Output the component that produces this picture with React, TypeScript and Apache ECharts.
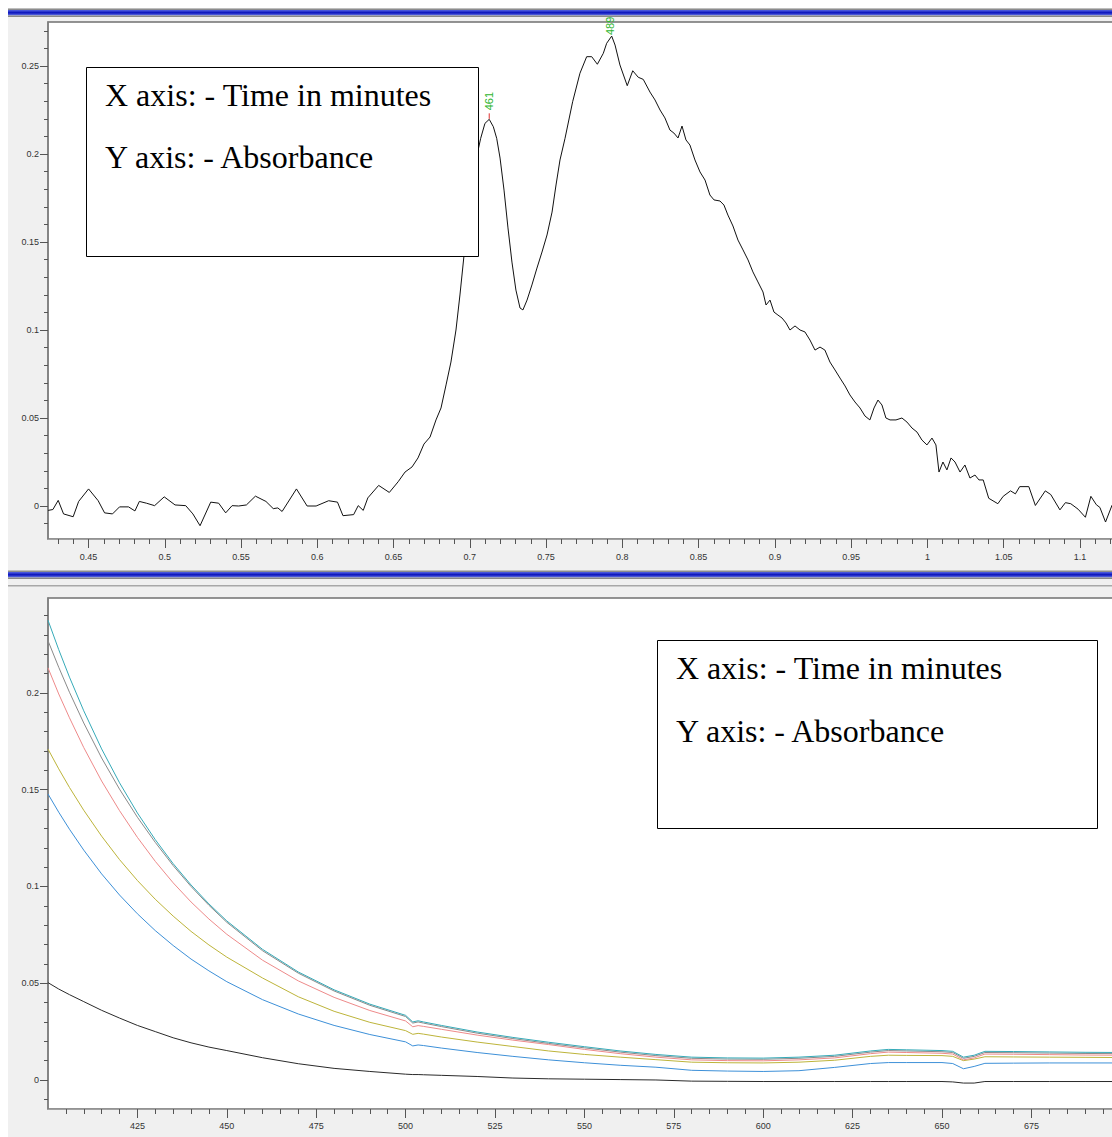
import React, { useEffect, useRef } from "react";
import * as echarts from "echarts";

// ---------------- Top chart (chromatogram) ----------------
const topTime = [
  0.4235, 0.4266, 0.4301, 0.4336, 0.4399, 0.4435, 0.45, 0.4563, 0.4605, 0.4657,
  0.4703, 0.4762, 0.4804, 0.4833, 0.4879, 0.4933, 0.4996, 0.5067, 0.5137, 0.5184,
  0.5231, 0.5301, 0.5353, 0.5399, 0.5441, 0.5484, 0.5535, 0.5594, 0.5663, 0.5711,
  0.5741, 0.5769, 0.5863, 0.5933, 0.5992, 0.6074, 0.6132, 0.6168, 0.6238, 0.6268,
  0.6301, 0.6331, 0.6402, 0.6472, 0.653, 0.6575, 0.6621, 0.666, 0.6699, 0.6739,
  0.6778, 0.6811, 0.6844, 0.6876, 0.6909, 0.6935, 0.6962, 0.6988, 0.7014, 0.704,
  0.7071, 0.7099, 0.7127, 0.7154, 0.7176, 0.7198, 0.7224, 0.725, 0.7276, 0.7302,
  0.7329, 0.7348, 0.7375, 0.7407, 0.744, 0.7473, 0.7506, 0.7539, 0.7565, 0.7591,
  0.7624, 0.7674, 0.7722, 0.7766, 0.7799, 0.7836, 0.7875, 0.7897, 0.793, 0.7952,
  0.7984, 0.8032, 0.8068, 0.8104, 0.8137, 0.8181, 0.8214, 0.8247, 0.8279, 0.8312,
  0.8338, 0.8365, 0.8391, 0.8417, 0.8443, 0.8476, 0.8509, 0.8542, 0.8574, 0.8601,
  0.864, 0.8666, 0.8692, 0.8725, 0.8758, 0.8791, 0.8824, 0.8856, 0.8889, 0.8922,
  0.8942, 0.8968, 0.8994, 0.902, 0.9047, 0.9073, 0.9099, 0.9132, 0.9165, 0.9197,
  0.923, 0.9263, 0.9296, 0.9328, 0.9361, 0.9394, 0.9427, 0.946, 0.9492, 0.9525,
  0.9558, 0.9591, 0.9623, 0.965, 0.9676, 0.9702, 0.9728, 0.9755, 0.9794, 0.9833,
  0.9866, 0.9899, 0.9932, 0.9964, 0.9997, 1.003, 1.0056, 1.0076, 1.0102, 1.0128,
  1.0155, 1.0181, 1.0214, 1.0246, 1.0279, 1.0312, 1.0338, 1.0366, 1.0402, 1.0462,
  1.0497, 1.0545, 1.0577, 1.0605, 1.0665, 1.0708, 1.0773, 1.0809, 1.0869, 1.0905,
  1.094, 1.0988, 1.1036, 1.1072, 1.1108, 1.1131, 1.1168, 1.121, 1.125,
];
const topAbs = [
  -0.0025, -0.002, 0.0032, -0.0045, -0.0061, 0.0026, 0.0097, 0.003, -0.0039, -0.0045,
  -0.0005, -0.0005, -0.0028, 0.0026, 0.0016, 0.0002, 0.0052, 0.0006, 0.0002, -0.0045,
  -0.0112, 0.0022, 0.0016, -0.0039, 0.0002, 0.0, 0.0006, 0.0056, 0.0026, -0.0015,
  -0.0011, -0.0031, 0.0097, 0.0, 0.0, 0.003, 0.0022, -0.0055, -0.0049, 0.0002,
  -0.0025, 0.0046, 0.0117, 0.0077, 0.0138, 0.0193, 0.0222, 0.0273, 0.0352, 0.0392,
  0.0489, 0.0557, 0.0688, 0.0818, 0.1, 0.1199, 0.1426, 0.1653, 0.1824, 0.1966,
  0.2089, 0.2174, 0.2197, 0.2155, 0.2089, 0.1977, 0.1795, 0.158, 0.1386, 0.1227,
  0.1125, 0.1114, 0.117, 0.1256, 0.1352, 0.1443, 0.154, 0.167, 0.1824, 0.1966,
  0.2089, 0.2297, 0.2459, 0.2553, 0.2553, 0.251, 0.2572, 0.2629, 0.267, 0.2619,
  0.2506, 0.2388, 0.2473, 0.2436, 0.2424, 0.2352, 0.2307, 0.225, 0.2205, 0.2136,
  0.2119, 0.2091, 0.2159, 0.208, 0.2051, 0.1966, 0.1898, 0.1852, 0.1767, 0.1739,
  0.1733, 0.171, 0.1653, 0.1591, 0.1511, 0.1455, 0.1398, 0.133, 0.1273, 0.1216,
  0.1142, 0.117, 0.1102, 0.1085, 0.1068, 0.104, 0.1, 0.1023, 0.1, 0.0989,
  0.0943, 0.0886, 0.0903, 0.0886, 0.0818, 0.0773, 0.0727, 0.0682, 0.0631, 0.0591,
  0.0557, 0.0511, 0.0489, 0.0557, 0.0602, 0.0574, 0.05, 0.0489, 0.0489, 0.05,
  0.0477, 0.0443, 0.042, 0.0375, 0.0347, 0.0386, 0.0347, 0.0193, 0.025, 0.0205,
  0.0273, 0.025, 0.0193, 0.0233, 0.0159, 0.0176, 0.0148, 0.0148, 0.0044, 0.0013,
  0.0055, 0.0086, 0.0069, 0.011, 0.011, 0.0003, 0.0086, 0.0065, -0.0022, 0.0019,
  0.0013, -0.0018, -0.0064, 0.0055, 0.0007, -0.0008, -0.0091, 0.0003, 0.0045,
];
const peakLabels = ["461", "489"];
const peakTimes = [0.7127, 0.793];
const peakAbs = [0.2197, 0.267];

const topXTicks = [0.45, 0.5, 0.55, 0.6, 0.65, 0.7, 0.75, 0.8, 0.85, 0.9, 0.95, 1, 1.05, 1.1];
const topYTicks = [0, 0.05, 0.1, 0.15, 0.2, 0.25];

// ---------------- Bottom chart (spectra) ----------------
const wavelengths = [
  400, 403, 406, 410, 415, 420, 425, 430, 435, 440,
  445, 450, 460, 470, 480, 490, 500,
  502, 503.5, 505, 510, 520, 530, 540,
  550, 560, 570, 580, 590, 600, 610, 620, 630,
  635, 640, 650, 653, 656, 659, 662,
  670, 680, 690, 700, 706,
];
const cyanAbs = [
  0.2376, 0.2224, 0.2082, 0.1908, 0.1711, 0.1536, 0.138, 0.1242, 0.1118, 0.1008,
  0.091, 0.0822, 0.0675, 0.0558, 0.0466, 0.0392, 0.0334,
  0.03, 0.0306, 0.03, 0.0282, 0.0248, 0.022, 0.0195,
  0.0172, 0.015, 0.0132, 0.0118, 0.0114, 0.0113, 0.0118, 0.0128, 0.015,
  0.0158, 0.0156, 0.0152, 0.0148, 0.0118, 0.0128, 0.0148,
  0.0147, 0.0145, 0.0143, 0.0142, 0.0142,
];
const grayAbs = [
  0.227, 0.2133, 0.2004, 0.1845, 0.1664, 0.1503, 0.1358, 0.1228, 0.1108, 0.1,
  0.0903, 0.0815, 0.0668, 0.0552, 0.046, 0.0386, 0.0328,
  0.0294, 0.03, 0.0294, 0.0276, 0.0242, 0.0214, 0.0189,
  0.0166, 0.0144, 0.0126, 0.0112, 0.0108, 0.0107, 0.0112, 0.0122, 0.0144,
  0.0152, 0.015, 0.0146, 0.0142, 0.0112, 0.0122, 0.0142,
  0.0141, 0.0139, 0.0137, 0.0136, 0.0136,
];
const pinkAbs = [
  0.213, 0.1995, 0.1872, 0.1718, 0.1545, 0.1392, 0.1254, 0.113, 0.1019, 0.092,
  0.0832, 0.0753, 0.0619, 0.0512, 0.0427, 0.0359, 0.0305,
  0.0275, 0.0281, 0.0277, 0.0262, 0.0232, 0.0206, 0.0183,
  0.0158, 0.0136, 0.0118, 0.0104, 0.01, 0.0099, 0.0104, 0.0114, 0.0136,
  0.0144, 0.0142, 0.0138, 0.0134, 0.0104, 0.0114, 0.0134,
  0.0133, 0.0131, 0.0129, 0.0128, 0.0128,
];
const oliveAbs = [
  0.171, 0.1608, 0.1512, 0.1394, 0.126, 0.1139, 0.1031, 0.0934, 0.0847, 0.0768,
  0.0698, 0.0635, 0.0527, 0.043, 0.0355, 0.0298, 0.0255,
  0.0236, 0.0241, 0.0237, 0.0222, 0.0196, 0.0173, 0.015,
  0.0132, 0.0118, 0.0105, 0.0092, 0.0089, 0.0088, 0.0092, 0.0102, 0.0122,
  0.0128, 0.0127, 0.0126, 0.0122, 0.01, 0.0108, 0.012,
  0.0119, 0.0118, 0.0117, 0.0116, 0.0116,
];
const blueAbs = [
  0.1478, 0.1384, 0.1296, 0.1188, 0.1065, 0.0956, 0.0859, 0.0772, 0.0695, 0.0625,
  0.0564, 0.0508, 0.0415, 0.0341, 0.0282, 0.0235, 0.0197,
  0.0176, 0.0181, 0.0178, 0.0165, 0.0142, 0.0122, 0.0104,
  0.0089, 0.0076, 0.0066, 0.005, 0.0046, 0.0044, 0.0048, 0.0065, 0.0085,
  0.009, 0.009, 0.009, 0.0085, 0.0058, 0.007, 0.0086,
  0.0087, 0.0088, 0.0088, 0.0088, 0.0088,
];
const blackAbs = [
  0.0503, 0.047, 0.0441, 0.0405, 0.036, 0.032, 0.0282, 0.025, 0.0218, 0.0192,
  0.017, 0.0152, 0.0115, 0.0084, 0.006, 0.0044, 0.003,
  0.0028, 0.0028, 0.0027, 0.0024, 0.0018, 0.001, 0.0006,
  0.0004, 0.0002, 0.0, -0.0006, -0.0007, -0.0008, -0.0008, -0.0008, -0.0008,
  -0.0008, -0.0008, -0.0008, -0.001, -0.0016, -0.0016, -0.0008,
  -0.0008, -0.0008, -0.0008, -0.0008, -0.0008,
];
const bottomXTicks = [425, 450, 475, 500, 525, 550, 575, 600, 625, 650, 675, 700];
const bottomYTicks = [0, 0.05, 0.1, 0.15, 0.2];

// ---------------- styling ----------------
const W = 1150;
const H = 1129;
const TICK_FONT = '"Liberation Sans", Arial, sans-serif';
const BOX_FONT = '"Liberation Serif", "Times New Roman", serif';

function steps(from: number, to: number, step: number, div: number) {
  const out: number[] = [];
  for (let i = from; i <= to; i += step) out.push(i / div);
  return out;
}
const topXMinor = steps(43, 114, 1, 100);
const topYMinor = steps(-1, 27, 1, 100);
const botXMinor = steps(405, 705, 5, 1);
const botYMinor = steps(-1, 24, 1, 100);

const fmt = (v: number) => String(Math.round(v * 1000) / 1000);

function axisPair(grid: number, dim: "x" | "y", min: number, max: number, major: number[], minor: number[], majorLen: number, minorLen: number, margin: number, lineColor: string) {
  const pos = dim === "x" ? "bottom" : "left";
  return [
    {
      gridIndex: grid,
      type: "value",
      position: pos,
      min,
      max,
      axisLine: { show: true, onZero: false, lineStyle: { color: lineColor, width: dim === "x" ? 1 : 1.5 } },
      axisTick: { show: true, customValues: major, length: majorLen, lineStyle: { color: "#555", width: 1 } },
      axisLabel: { show: true, customValues: major, formatter: fmt, fontSize: 9, color: "#333", fontFamily: TICK_FONT, margin },
      splitLine: { show: false },
    },
    {
      gridIndex: grid,
      type: "value",
      position: pos,
      min,
      max,
      axisLine: { show: false, onZero: false },
      axisTick: { show: true, customValues: minor, length: minorLen, lineStyle: { color: "#555", width: 1 } },
      axisLabel: { show: false },
      splitLine: { show: false },
    },
  ];
}

export default function App() {
  const ref = useRef<HTMLDivElement>(null);
  useEffect(() => {
    if (!ref.current) return;
    const chart = echarts.init(ref.current, null, { renderer: "svg" });
    const topMinX = 0.4234, topMaxX = 1.1394, topMinY = -0.01875, topMaxY = 0.275;
    const botMinX = 400, botMaxX = 705.37, botMinY = -0.015, botMaxY = 0.2491;

    const xAxes = [
      ...axisPair(0, "x", topMinX, topMaxX, topXTicks, topXMinor, 9, 5, 13, "#a0a0a0"),
      ...axisPair(1, "x", botMinX, botMaxX, bottomXTicks, botXMinor, 9, 5, 12, "#a0a0a0"),
    ];
    const yAxes = [
      ...axisPair(0, "y", topMinY, topMaxY, topYTicks, topYMinor, 8, 4, 9, "#808080"),
      ...axisPair(1, "y", botMinY, botMaxY, bottomYTicks, botYMinor, 8, 4, 9, "#808080"),
    ];

    const specSeries = [
      { data: blackAbs, color: "#2a2a2a" },
      { data: blueAbs, color: "#3d90d8" },
      { data: oliveAbs, color: "#bdb43a" },
      { data: pinkAbs, color: "#ee8a8a" },
      { data: grayAbs, color: "#8a8a8a" },
      { data: cyanAbs, color: "#35aab8" },
    ].map((s) => ({
      type: "line",
      xAxisIndex: 2,
      yAxisIndex: 2,
      data: wavelengths.map((w, i) => [w, s.data[i]]),
      showSymbol: false,
      symbol: "none",
      silent: true,
      lineStyle: { color: s.color, width: 1 },
    }));

    chart.setOption({
      animation: false,
      backgroundColor: "#f0f0f0",
      grid: [
        { left: 40, top: 14, width: 1092, height: 517, show: true, backgroundColor: "#fff", borderColor: "#707070", borderWidth: 1.5 },
        { left: 40, top: 590, width: 1092, height: 511, show: true, backgroundColor: "#fff", borderColor: "#707070", borderWidth: 1.5 },
      ],
      xAxis: xAxes,
      yAxis: yAxes,
      series: [
        {
          type: "line",
          xAxisIndex: 0,
          yAxisIndex: 0,
          data: topTime.map((t, i) => [t, topAbs[i]]),
          showSymbol: false,
          symbol: "none",
          silent: true,
          lineStyle: { color: "#111", width: 1 },
        },
        ...specSeries,
      ],
    });

    const peakGap = [9, 1];
    const peakTick = [true, false];
    const peakGraphics: any[] = [];
    peakTimes.forEach((t, i) => {
      const p = chart.convertToPixel({ seriesIndex: 0 }, [t, peakAbs[i]]) as number[];
      if (peakTick[i]) {
        peakGraphics.push({
          type: "line",
          z: 20,
          shape: { x1: p[0], y1: p[1] - 6, x2: p[0], y2: p[1] - 0.5 },
          style: { stroke: "#e03030", lineWidth: 1 },
        });
      }
      peakGraphics.push({
        type: "text",
        z: 20,
        x: p[0] - (peakTick[i] ? 0 : 2),
        y: p[1] - peakGap[i],
        rotation: Math.PI / 2,
        style: { text: peakLabels[i], fill: "#2fb52f", fontSize: 11, fontFamily: TICK_FONT, align: "left", verticalAlign: "middle" },
      });
    });

    const grad = (a: string, b: string, c: string) =>
      new echarts.graphic.LinearGradient(0, 0, 0, 1, [
        { offset: 0, color: a },
        { offset: 0.5, color: b },
        { offset: 1, color: c },
      ]);

    const band = (y: number) => [
      { type: "rect", z: 20, shape: { x: 0, y: y, width: W, height: 1.5 }, style: { fill: "#8c8c8c" } },
      { type: "rect", z: 20, shape: { x: 0, y: y + 1.5, width: W, height: 5.5 }, style: { fill: grad("#5565e2", "#0a12bc", "#6a7ae6") } },
      { type: "rect", z: 20, shape: { x: 0, y: y + 7, width: W, height: 1.5 }, style: { fill: "#8a8a8a" } },
    ];

    const textBox = (x: number, y: number, w: number, h: number, tx: number, ty1: number, ty2: number) => [
      { type: "rect", z: 30, shape: { x, y, width: w, height: h }, style: { fill: "#fff", stroke: "#000", lineWidth: 1 } },
      { type: "text", z: 31, x: tx, y: ty1, style: { text: "X axis: - Time in minutes", fill: "#000", fontSize: 32, fontFamily: BOX_FONT, align: "left", verticalAlign: "middle" } },
      { type: "text", z: 31, x: tx, y: ty2, style: { text: "Y axis: - Absorbance", fill: "#000", fontSize: 32, fontFamily: BOX_FONT, align: "left", verticalAlign: "middle" } },
    ];

    chart.setOption({
      graphic: {
        elements: [
          ...band(0.5),
          ...band(562.5),
          { type: "rect", z: 20, shape: { x: 0, y: 577, width: W, height: 1.5 }, style: { fill: "#a8a8a8" } },
          ...textBox(78.5, 59.5, 392, 189, 97, 87, 149),
          ...textBox(649.5, 632.5, 440, 188, 668, 660, 723),
          ...peakGraphics,
        ],
      },
    });

    return () => chart.dispose();
  }, []);

  return (
    <div style={{ position: "fixed", left: 0, top: 0, width: 1112, height: 1137, overflow: "hidden", background: "#fff" }}>
      <div ref={ref} style={{ position: "absolute", left: 8, top: 8, width: W, height: H }} />
    </div>
  );
}
